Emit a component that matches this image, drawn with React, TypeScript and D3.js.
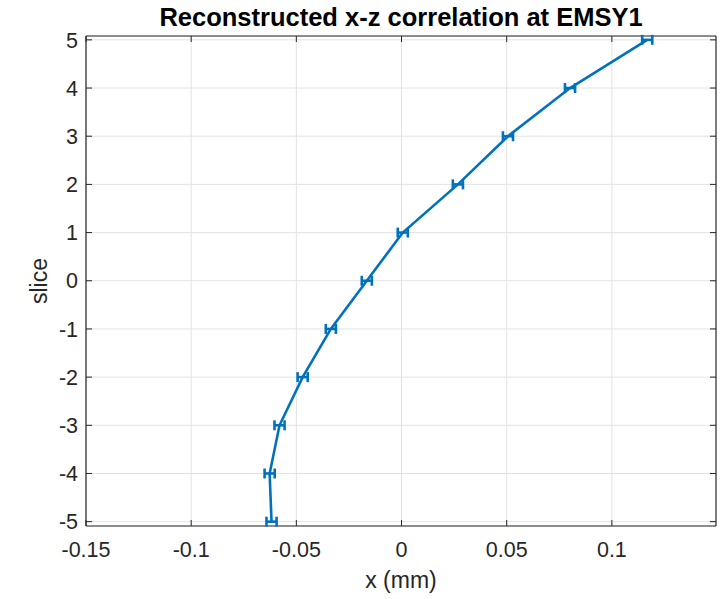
import React, { useRef, useEffect } from 'react';
import * as d3 from 'd3';

// values
const slices = [5, 4, 3, 2, 1, 0, -1, -2, -3, -4, -5];
const xMeans = [0.1168, 0.0801, 0.0506, 0.0268, 0.0006, -0.0165, -0.0336, -0.047, -0.058, -0.0627, -0.0618];
const xErrors = [0.0024, 0.0024, 0.0024, 0.0024, 0.0024, 0.0024, 0.0024, 0.0024, 0.0024, 0.0024, 0.0024];
const xTicks = [-0.15, -0.1, -0.05, 0, 0.05, 0.1];
const yTicks = [-5, -4, -3, -2, -1, 0, 1, 2, 3, 4, 5];

const App = () => {
  const svgRef = useRef<SVGSVGElement>(null);
  const width = 728;
  const height = 599;

  useEffect(() => {
    const svg = d3.select(svgRef.current);
    svg.selectAll('*').remove();

    const margin = { top: 36, right: 12, bottom: 73, left: 86 };
    const innerWidth = width - margin.left - margin.right;
    const innerHeight = height - margin.top - margin.bottom;
    const font = 'Liberation Sans, Arial, sans-serif';
    const axisColor = '#262626';
    const blue = '#0072BD';

    const chart = svg.append('g').attr('transform', `translate(${margin.left},${margin.top})`);

    const xScale = d3.scaleLinear().domain([-0.15, 0.1495]).range([0, innerWidth]);
    const yScale = d3.scaleLinear().domain([-5.09, 5.08]).range([innerHeight, 0]);

    // Grid
    chart.append('g')
      .selectAll('line')
      .data(xTicks)
      .enter()
      .append('line')
      .attr('x1', d => xScale(d))
      .attr('x2', d => xScale(d))
      .attr('y1', 0)
      .attr('y2', innerHeight)
      .attr('stroke', '#e3e3e3');

    chart.append('g')
      .selectAll('line')
      .data(yTicks)
      .enter()
      .append('line')
      .attr('x1', 0)
      .attr('x2', innerWidth)
      .attr('y1', d => yScale(d))
      .attr('y2', d => yScale(d))
      .attr('stroke', '#e3e3e3');

    // Box
    chart.append('line').attr('x1', 0).attr('x2', innerWidth).attr('y1', 0).attr('y2', 0)
      .attr('stroke', '#8c8c8c').attr('stroke-width', 2);
    chart.append('line').attr('x1', 0).attr('x2', innerWidth).attr('y1', innerHeight).attr('y2', innerHeight)
      .attr('stroke', '#8c8c8c').attr('stroke-width', 2);
    chart.append('line').attr('x1', 0).attr('x2', 0).attr('y1', 0).attr('y2', innerHeight)
      .attr('stroke', axisColor).attr('stroke-width', 1.2);
    chart.append('line').attr('x1', innerWidth).attr('x2', innerWidth).attr('y1', 0).attr('y2', innerHeight)
      .attr('stroke', axisColor).attr('stroke-width', 1.2);

    // Ticks (inward)
    const tickLen = 6;
    xTicks.forEach(t => {
      const x = xScale(t);
      chart.append('line').attr('x1', x).attr('x2', x).attr('y1', innerHeight).attr('y2', innerHeight - tickLen)
        .attr('stroke', axisColor);
      chart.append('line').attr('x1', x).attr('x2', x).attr('y1', 0).attr('y2', tickLen)
        .attr('stroke', axisColor);
      chart.append('text')
        .attr('x', x)
        .attr('y', innerHeight + 31)
        .attr('text-anchor', 'middle')
        .attr('font-family', font)
        .attr('font-size', '21.5px')
        .attr('fill', axisColor)
        .text(String(t));
    });
    yTicks.forEach(t => {
      const y = yScale(t);
      chart.append('line').attr('x1', 0).attr('x2', tickLen).attr('y1', y).attr('y2', y).attr('stroke', axisColor);
      chart.append('line').attr('x1', innerWidth).attr('x2', innerWidth - tickLen).attr('y1', y).attr('y2', y)
        .attr('stroke', axisColor);
      chart.append('text')
        .attr('x', -8)
        .attr('y', y)
        .attr('dy', '0.36em')
        .attr('text-anchor', 'end')
        .attr('font-family', font)
        .attr('font-size', '21.5px')
        .attr('fill', axisColor)
        .text(String(t));
    });

    // Line
    const points = slices.map((s, i) => ({ slice: s, x: xMeans[i], err: xErrors[i] }));
    const line = d3.line<{ slice: number; x: number }>()
      .x(d => xScale(d.x))
      .y(d => yScale(d.slice));

    chart.append('path')
      .attr('d', line(points))
      .attr('fill', 'none')
      .attr('stroke', blue)
      .attr('stroke-width', 2.6);

    // Horizontal error bars
    const cap = 5;
    points.forEach(p => {
      const y = yScale(p.slice);
      const x0 = xScale(p.x - p.err);
      const x1 = xScale(p.x + p.err);
      chart.append('line').attr('x1', x0).attr('x2', x1).attr('y1', y).attr('y2', y)
        .attr('stroke', blue).attr('stroke-width', 2.6);
      [x0, x1].forEach(xx => {
        chart.append('line').attr('x1', xx).attr('x2', xx).attr('y1', y - cap).attr('y2', y + cap)
          .attr('stroke', blue).attr('stroke-width', 2.6);
      });
    });

    // Title
    svg.append('text')
      .attr('x', 401)
      .attr('y', 26)
      .attr('text-anchor', 'middle')
      .attr('font-family', font)
      .attr('font-size', '25.5px')
      .attr('font-weight', 'bold')
      .attr('fill', '#000')
      .text('Reconstructed x-z correlation at EMSY1');

    // X axis label
    svg.append('text')
      .attr('x', 401)
      .attr('y', 588)
      .attr('text-anchor', 'middle')
      .attr('font-family', font)
      .attr('font-size', '23px')
      .attr('fill', axisColor)
      .text('x (mm)');

    // Y axis label
    svg.append('text')
      .attr('transform', 'rotate(-90)')
      .attr('x', -281)
      .attr('y', 47)
      .attr('text-anchor', 'middle')
      .attr('font-family', font)
      .attr('font-size', '23px')
      .attr('fill', axisColor)
      .text('slice');
  }, []);

  return (
    <svg
      ref={svgRef}
      width={width}
      height={height}
      style={{ position: 'absolute', left: 0, top: 0, background: '#fff' }}
    />
  );
};

export default App;
